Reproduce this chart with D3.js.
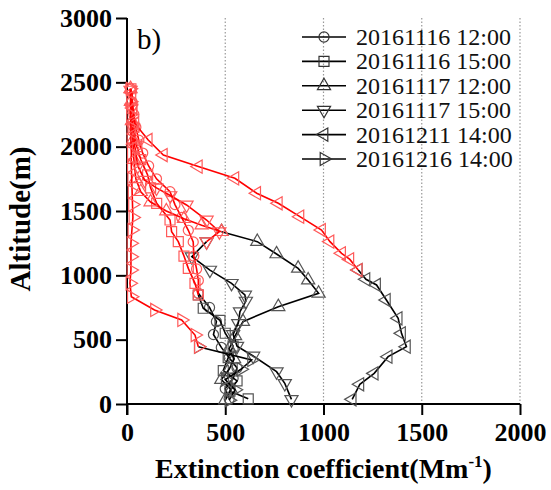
<!DOCTYPE html>
<html>
<head>
<meta charset="utf-8">
<script src="https://cdn.jsdelivr.net/npm/d3@7"></script>
<style>
  body { margin: 0; background: #fff; }
  svg { display: block; }
  text { font-family: "Liberation Serif", "Times New Roman", serif; }
</style>
</head>
<body>
<svg id="chart" width="551" height="490"></svg>
<script>
// Vertical extinction profiles (altitude in m, extinction in Mm^-1)
const seriesLabels = ["20161116 12:00", "20161116 15:00", "20161117 12:00",
                      "20161117 15:00", "20161211 14:00", "20161216 14:00"];
const seriesSymbols = ["circle", "square", "up", "down", "left", "right"];

const alt1116a = [40,120,200,280,360,440,540,640,750,860,960,1050,1150,1260,1350,1450,1550,1650,1750,1850,1950,2050,2150,2250,2350,2450];
const ext1116a = [520,500,540,560,520,480,440,455,420,363,363,354,340,337,312,278,244,219,150,110,80,60,45,35,25,20];

const alt1116b = [40,100,180,260,360,450,550,650,744,847,938,1054,1150,1262,1340,1430,1560,1680,1780,1900,2000,2150,2300,2450];
const ext1116b = [617,524,560,490,515,540,500,473,388,363,346,312,290,261,227,219,151,120,105,70,50,35,25,20];

const alt1117a = [30,110,190,270,350,430,530,640,756,860,963,1054,1166,1262,1339,1390,1440,1500,1570,1650,1750,1900,2050,2200,2350,2450];
const ext1117a = [500,530,480,520,545,520,550,590,770,975,922,871,761,663,481,380,290,200,120,70,45,35,30,25,20,18];

const alt1117b = [36,160,251,373,450,540,627,718,800,847,938,1041,1145,1262,1339,1430,1547,1620,1680,1740,1850,2000,2150,2300,2440];
const ext1117b = [837,803,761,642,560,540,566,575,605,600,532,422,330,405,470,405,303,220,150,90,55,40,30,22,18];

const alt1211 = [36,153,238,368,445,549,666,808,925,969,1041,1124,1171,1262,1352,1456,1560,1638,1754,1845,1935,2052,2181,2300,2420];
const ext1211 = [1146,1185,1258,1329,1422,1397,1380,1320,1270,1216,1177,1134,1092,1033,990,880,770,660,549,363,185,108,40,30,25];

const alt1216 = [30,110,190,270,342,445,536,653,731,834,938,1041,1145,1249,1352,1450,1550,1650,1750,1850,1950,2050,2150,2250,2350,2450];
const ext1216 = [520,550,500,580,634,363,346,278,140,22,15,20,20,20,25,30,28,26,24,22,22,20,20,18,18,16];

// Altitude from which each profile is drawn in red
const redFrom = [860, 847, 1339, 1262, 1041, 445];

const xTicks = [0, 500, 1000, 1500, 2000];
const yTicks = [0, 500, 1000, 1500, 2000, 2500, 3000];

const altitudes = [alt1116a, alt1116b, alt1117a, alt1117b, alt1211, alt1216];
const extinctions = [ext1116a, ext1116b, ext1117a, ext1117b, ext1211, ext1216];

const svg = d3.select("#chart");
const x = d3.scaleLinear().domain([0, 2000]).range([127, 520]);
const y = d3.scaleLinear().domain([0, 3000]).range([404, 18]);

// dotted vertical guides
svg.append("g").selectAll("line")
  .data(xTicks.slice(1))
  .join("line")
  .attr("x1", d => x(d)).attr("x2", d => x(d))
  .attr("y1", y(3000)).attr("y2", y(0))
  .attr("stroke", "#999").attr("stroke-width", 1.2)
  .attr("stroke-dasharray", "1.5,2");

// axes
const xAxis = d3.axisBottom(x).tickValues(xTicks).tickSize(11).tickPadding(8).tickFormat(d3.format("d"));
const yAxis = d3.axisLeft(y).tickValues(yTicks).tickSize(11).tickPadding(4).tickFormat(d3.format("d"));

const gx = svg.append("g").attr("transform", `translate(0,${y(0)})`).call(xAxis);
const gy = svg.append("g").attr("transform", `translate(${x(0)},0)`).call(yAxis);
[gx, gy].forEach(g => {
  g.select(".domain").attr("stroke", "#000").attr("stroke-width", 2);
  g.selectAll(".tick line").attr("stroke", "#000").attr("stroke-width", 2);
  g.selectAll(".tick text").attr("fill", "#000")
    .style("font-family", "'Liberation Serif', serif")
    .style("font-size", "26px").style("font-weight", "bold");
});
gx.select(".domain").attr("d", `M${x(0)},0H${x(2000)}`);
gy.select(".domain").attr("d", `M0,${y(3000)}V${y(0) + 11}`);

// axis titles
svg.append("text")
  .attr("transform", `translate(30,${(y(0) + y(3000)) / 2 + 8}) rotate(-90)`)
  .attr("text-anchor", "middle")
  .style("font-size", "29px").style("font-weight", "bold")
  .text("Altitude(m)");

const xt = svg.append("text")
  .attr("x", (x(0) + x(2000)) / 2).attr("y", 478)
  .attr("text-anchor", "middle")
  .style("font-size", "28px").style("font-weight", "bold");
xt.append("tspan").text("Extinction coefficient(Mm");
xt.append("tspan").attr("dy", -11).style("font-size", "17px").text("-1");
xt.append("tspan").attr("dy", 11).text(")");

svg.append("text").attr("x", 137).attr("y", 49)
  .style("font-size", "29px").text("b)");

// marker shapes
function symbolPath(kind) {
  if (kind === "circle") return d3.symbol().type(d3.symbolCircle).size(80)();
  if (kind === "square") return d3.symbol().type(d3.symbolSquare).size(100)();
  return d3.symbol().type(d3.symbolTriangle).size(75)();
}
const rotation = { circle: 0, square: 0, up: 0, down: 180, left: -90, right: 90 };

const line = d3.line().x(d => x(d.e)).y(d => y(d.a));

function profile(i) {
  const pts = altitudes[i].map((a, k) => ({ a, e: extinctions[i][k] }));
  const lower = pts.filter(p => p.a <= redFrom[i]);
  const upper = pts.filter(p => p.a >= redFrom[i]);
  return { lower, upper };
}

function drawPart(g, pts, kind, lineColor, markColor) {
  g.append("path").datum(pts).attr("d", line)
    .attr("fill", "none").attr("stroke", lineColor).attr("stroke-width", 1.6);
  g.append("g").selectAll("path").data(pts).join("path")
    .attr("d", symbolPath(kind))
    .attr("transform", d => `translate(${x(d.e)},${y(d.a)}) rotate(${rotation[kind]})`)
    .attr("fill", "none").attr("stroke", markColor).attr("stroke-width", 1.2);
}

const plot = svg.append("g");
const blackLayer = plot.append("g");
const redLayer = plot.append("g");
seriesLabels.forEach((name, i) => {
  const { lower, upper } = profile(i);
  drawPart(blackLayer, lower, seriesSymbols[i], "#000", "#555");
  drawPart(redLayer, upper, seriesSymbols[i], "#f00", "#ff5a5a");
});

// legend
const legend = svg.append("g");
seriesLabels.forEach((name, i) => {
  const cy = 37 + i * 24.4;
  const row = legend.append("g");
  row.append("line").attr("x1", 302).attr("x2", 346).attr("y1", cy).attr("y2", cy)
    .attr("stroke", "#000").attr("stroke-width", 1.6);
  row.append("path").attr("d", symbolPath(seriesSymbols[i]))
    .attr("transform", `translate(324,${cy}) rotate(${rotation[seriesSymbols[i]]})`)
    .attr("fill", "none").attr("stroke", "#333").attr("stroke-width", 1.2);
  row.append("text").attr("x", 356).attr("y", cy + 8)
    .style("font-size", "24px").attr("fill", "#111").text(name);
});
</script>
</body>
</html>
